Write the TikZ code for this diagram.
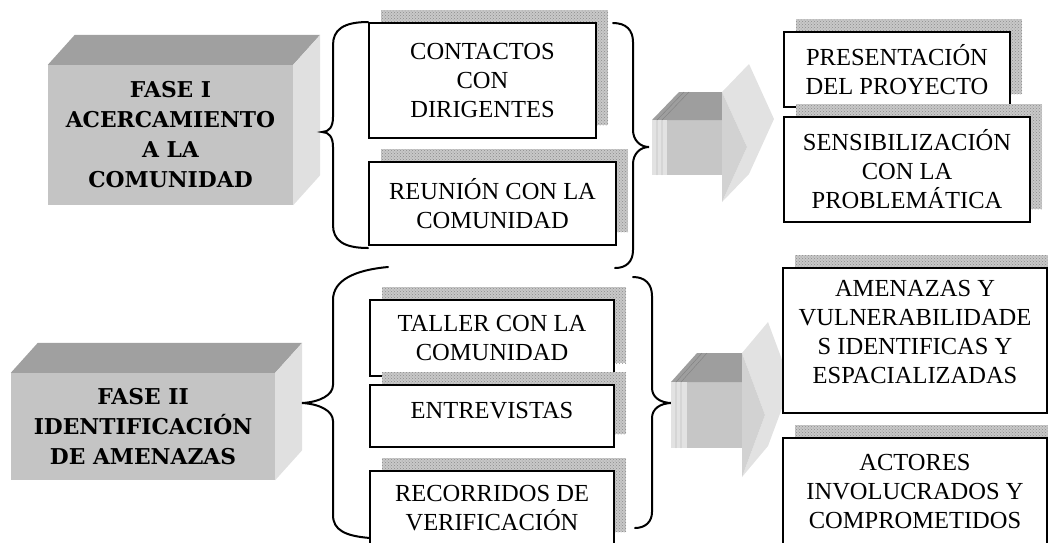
\documentclass[tikz,border=0pt]{standalone}
\usepackage{fontspec}
\setmainfont{Liberation Serif}
\newfontfamily\faseletra{DejaVu Serif}
\usetikzlibrary{patterns}

\definecolor{cajaFrente}{HTML}{C4C4C4}
\definecolor{cajaTapa}{HTML}{A0A0A0}
\definecolor{cajaLado}{HTML}{E0E0E0}
\definecolor{sombraGris}{HTML}{C8C8C8}
\definecolor{sombraPunto}{HTML}{8C8C8C}
\definecolor{flechaFrente}{HTML}{C6C6C6}
\definecolor{flechaTapa}{HTML}{9E9E9E}
\definecolor{flechaLado}{HTML}{E2E2E2}
\definecolor{flechaPunta}{HTML}{D2D2D2}

\begin{document}
\begin{tikzpicture}[x=1pt, y=-1pt,
  caja/.style={draw, line width=2pt, fill=white, align=center, inner sep=0pt,
    font=\fontsize{24.5}{29}\selectfont,
    preaction={fill=sombraGris, transform canvas={shift={(12pt,13pt)}}},
    preaction={pattern=crosshatch dots, pattern color=sombraPunto, transform canvas={shift={(12pt,13pt)}}}},
  fase/.style={fill=cajaFrente, align=center, inner sep=0pt,
    font=\faseletra\bfseries\fontsize{21.8}{30}\selectfont},
  llave/.style={line width=2pt, line cap=round}]
  \useasboundingbox (0,0) rectangle (1048,542);

  % fases (cajas en 3D)
  \node[fase, minimum width=245pt, minimum height=140pt] (fase1) at (170.5,135)
    {FASE I\\ACERCAMIENTO\\A LA\\COMUNIDAD};
  \fill[cajaTapa] (fase1.north west) -- ++(27,-30) -- ([shift={(27,-30)}]fase1.north east) -- (fase1.north east) -- cycle;
  \fill[cajaLado] (fase1.north east) -- ++(27,-30) -- ([shift={(27,-30)}]fase1.south east) -- (fase1.south east) -- cycle;

  \node[fase, minimum width=264pt, minimum height=107pt] (fase2) at (143,426.5)
    {FASE II\\IDENTIFICACIÓN\\DE AMENAZAS};
  \fill[cajaTapa] (fase2.north west) -- ++(27,-30) -- ([shift={(27,-30)}]fase2.north east) -- (fase2.north east) -- cycle;
  \fill[cajaLado] (fase2.north east) -- ++(27,-30) -- ([shift={(27,-30)}]fase2.south east) -- (fase2.south east) -- cycle;

  % llaves
  \draw[llave] (368,22) .. controls (343,22) and (333,30) .. (333,45) -- (333,117)
    .. controls (333,127) and (329,132) .. (322,132) .. controls (329,132) and (333,137) .. (333,147)
    -- (333,225) .. controls (333,240) and (343,248) .. (368,248);
  \draw[llave] (613,23) .. controls (626,23) and (633,30) .. (633,42) -- (633,130)
    .. controls (633,140) and (640,147) .. (649,147) .. controls (640,147) and (633,154) .. (633,164)
    -- (633,250) .. controls (633,262) and (626,268) .. (615,268);
  \draw[llave] (388,267) .. controls (355,270) and (333,280) .. (333,300) -- (333,385)
    .. controls (333,395) and (320,402) .. (302,403) .. controls (320,404) and (333,411) .. (333,421)
    -- (333,515) .. controls (333,530) and (345,536) .. (370,538);
  \draw[llave] (633,277) .. controls (645,277) and (652,284) .. (652,296) -- (652,388)
    .. controls (652,397) and (660,403) .. (672,403) .. controls (660,403) and (652,409) .. (652,418)
    -- (652,512) .. controls (652,522) and (645,528) .. (635,528);

  % flecha de arriba
  \fill[flechaFrente] (652,120) rectangle (722,175);
  \fill[flechaTapa] (652,120) -- (679,92) -- (722,92) -- (722,120) -- cycle;
  \fill[flechaLado] (722,92) -- (749,64) -- (774,119) -- (749,174) -- (722,202) -- (747,147) -- cycle;
  \fill[flechaPunta] (722,92) -- (747,147) -- (722,202) -- cycle;
  \fill[flechaLado] (652,120) rectangle (667,175);
  \draw[gray, thin] (657,120) -- (657,175) (662,120) -- (662,175) (657,120) -- (684,92) (662,120) -- (689,92);

  % flecha de abajo
  \fill[flechaFrente] (671,382) rectangle (742,448);
  \fill[flechaTapa] (671,382) -- (697,353) -- (742,353) -- (742,382) -- cycle;
  \fill[flechaLado] (742,353) -- (768,322) -- (791,384) -- (768,446) -- (742,477) -- (765,415) -- cycle;
  \fill[flechaPunta] (742,353) -- (765,415) -- (742,477) -- cycle;
  \fill[flechaLado] (671,382) rectangle (687,448);
  \draw[gray, thin] (676,382) -- (676,448) (681,382) -- (681,448) (676,382) -- (702,353) (681,382) -- (707,353);

  % actividades
  \node[caja, minimum width=227pt, minimum height=115pt] (contactos) at (482.5,80.5) {CONTACTOS\\CON\\DIRIGENTES};
  \node[caja, minimum width=247pt, minimum height=83pt] (reunion) at (492.5,203.5) {REUNIÓN CON LA\\COMUNIDAD};
  \node[caja, minimum width=244pt, minimum height=76pt] (taller) at (492,338) {TALLER CON LA\\COMUNIDAD};
  \node[caja, minimum width=244pt, minimum height=62pt, text depth=12pt] (entrevistas) at (492,416) {ENTREVISTAS};
  \node[caja, minimum width=244pt, minimum height=74pt] (recorridos) at (492,508) {RECORRIDOS DE\\VERIFICACIÓN};

  % resultados
  \node[caja, minimum width=226pt, minimum height=75pt] (presentacion) at (897,69.5) {PRESENTACIÓN\\DEL PROYECTO};
  \node[caja, minimum width=246pt, minimum height=105pt] (sensibilizacion) at (907,169.5) {SENSIBILIZACIÓN\\CON LA\\PROBLEMÁTICA};
  \node[caja, minimum width=264pt, minimum height=145pt, text depth=18pt] (amenazas) at (915,340.5) {AMENAZAS Y\\VULNERABILIDADE\\S IDENTIFICAS Y\\ESPACIALIZADAS};
  \node[caja, minimum width=264pt, minimum height=107pt] (actores) at (915,491.5) {ACTORES\\INVOLUCRADOS Y\\COMPROMETIDOS};
\end{tikzpicture}
\end{document}
